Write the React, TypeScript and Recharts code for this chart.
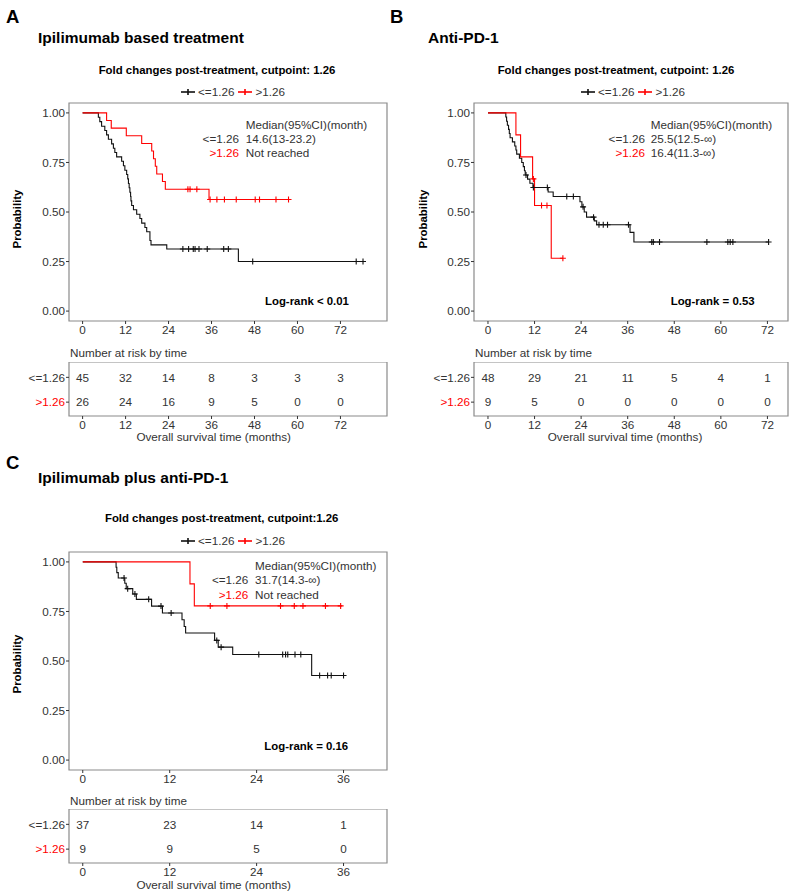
import React from 'react';
import { ComposedChart, Line, Scatter, XAxis, YAxis, ReferenceArea, Legend } from 'recharts';

type Pt = [number, number];

// ---------- shared labels ----------
const groupLabels = ['<=1.26', '>1.26'];
const groupColors = ['#111111', '#ff0000'];
const probTicks = [0, 0.25, 0.5, 0.75, 1];

// ---------- Panel A: Ipilimumab based treatment ----------
const aLowCurve: Pt[] = [
  [0, 1], [4.4, 0.978], [4.8, 0.956], [5.3, 0.933], [6.2, 0.911], [6.7, 0.889], [7.2, 0.867],
  [8.1, 0.844], [8.6, 0.822], [9.0, 0.8], [9.5, 0.778], [10.9, 0.756], [11.4, 0.733], [11.8, 0.711],
  [12.3, 0.689], [12.6, 0.667], [12.8, 0.644], [13.0, 0.622], [13.2, 0.6], [13.4, 0.578], [13.5, 0.556],
  [13.7, 0.533], [14.2, 0.511], [15.1, 0.489], [16.0, 0.467], [16.5, 0.444], [17.4, 0.422], [17.9, 0.4],
  [18.8, 0.356], [19.1, 0.334], [23.5, 0.313], [43.5, 0.25], [78.3, 0.25],
];
const aLowCensor = [28.0, 29.6, 30.9, 31.4, 32.5, 34.8, 39.4, 40.7, 47.5, 76.4, 78.3];
const aHighCurve: Pt[] = [
  [0, 1], [6.7, 0.962], [8.0, 0.923], [12.2, 0.885], [16.5, 0.846], [19.3, 0.808], [19.8, 0.769],
  [20.3, 0.731], [20.7, 0.692], [22.3, 0.654], [23.1, 0.615], [35.3, 0.563], [57.5, 0.563],
];
const aHighCensor = [29.4, 30.0, 31.9, 35.6, 37.5, 39.6, 42.9, 48.2, 49.4, 54.0, 57.5];
const aTimes = [0, 12, 24, 36, 48, 60, 72];
const aRiskLow = [45, 32, 14, 8, 3, 3, 3];
const aRiskHigh = [26, 24, 16, 9, 5, 0, 0];

// ---------- Panel B: Anti-PD-1 ----------
const bLowCurve: Pt[] = [
  [0, 1], [4.6, 0.979], [4.8, 0.958], [5.0, 0.938], [5.3, 0.917], [5.5, 0.896], [5.7, 0.875],
  [6.3, 0.854], [6.9, 0.833], [7.2, 0.813], [7.4, 0.792], [8.1, 0.771], [8.7, 0.75], [9.1, 0.729],
  [9.4, 0.708], [9.6, 0.687], [10.2, 0.666], [10.8, 0.645], [11.6, 0.624], [15.5, 0.601], [16.8, 0.578],
  [23.7, 0.552], [24.2, 0.526], [24.8, 0.5], [25.4, 0.474], [27.4, 0.455], [28.0, 0.436],
  [36.6, 0.397], [37.6, 0.349], [72.3, 0.349],
];
const bLowCensor = [9.8, 11.7, 15.3, 20.3, 22.0, 24.5, 27.2, 28.6, 29.7, 30.8, 36.2, 42.2, 42.6, 44.2, 56.4, 61.8, 62.4, 63.1, 72.3];
const bHighCurve: Pt[] = [
  [0, 1], [7.2, 0.889], [8.4, 0.778], [11.5, 0.667], [12.0, 0.533], [16.3, 0.267], [19.3, 0.267],
];
const bHighCensor = [11.7, 13.8, 15.2, 19.3];
const bTimes = [0, 12, 24, 36, 48, 60, 72];
const bRiskLow = [48, 29, 21, 11, 5, 4, 1];
const bRiskHigh = [9, 5, 0, 0, 0, 0, 0];

// ---------- Panel C: Ipilimumab plus anti-PD-1 ----------
const cLowCurve: Pt[] = [
  [0, 1], [4.6, 0.973], [4.7, 0.946], [4.9, 0.919], [5.8, 0.892], [6.0, 0.865], [6.9, 0.838],
  [7.4, 0.811], [9.5, 0.777], [11.0, 0.742], [13.7, 0.708], [14.0, 0.674], [14.2, 0.641],
  [18.2, 0.604], [18.7, 0.57], [20.7, 0.533], [31.6, 0.427], [36.0, 0.427],
];
const cLowCensor = [5.7, 6.2, 7.2, 9.1, 10.8, 12.2, 18.5, 19.1, 24.3, 27.6, 28.0, 28.3, 29.3, 30.1, 32.7, 33.8, 34.3, 36.0];
const cHighCurve: Pt[] = [[0, 1], [14.8, 0.889], [15.4, 0.778], [35.8, 0.778]];
const cHighCensor = [17.6, 19.9, 27.3, 29.2, 30.4, 33.5, 35.6];
const cTimes = [0, 12, 24, 36];
const cRiskLow = [37, 23, 14, 1];
const cRiskHigh = [9, 9, 5, 0];

// ---------- helpers ----------
const FONT = '"Liberation Sans", Arial, Helvetica, sans-serif';
const TXT = '#333333';
const BORDER = '#8a8a8a';

const toRows = (pts: Pt[]) => pts.map(([t, s]) => ({ t, s }));
const stepAt = (pts: Pt[], t: number) => {
  let s = pts[0][1];
  for (const [tt, ss] of pts) if (tt <= t) s = ss;
  return s;
};
const censorRows = (pts: Pt[], times: number[]) => times.map((t) => ({ t, s: stepAt(pts, t) }));
const riskRows = (times: number[], low: number[], high: number[]) => [
  ...times.map((t, i) => ({ t, row: 2, n: low[i] })),
  ...times.map((t, i) => ({ t, row: 1, n: high[i] })),
];

const plusShape = (color: string) => (props: any) => {
  const { cx, cy } = props;
  if (cx == null || cy == null) return <g />;
  return (
    <path
      d={`M${cx - 3},${cy}H${cx + 3}M${cx},${cy - 3}V${cy + 3}`}
      stroke={color}
      strokeWidth={1.1}
      fill="none"
    />
  );
};

const numberShape = (props: any) => {
  const { cx, cy, payload } = props;
  return (
    <text x={cx} y={cy} dy="0.36em" textAnchor="middle" fontSize={11.7} fill={TXT}>
      {payload.n}
    </text>
  );
};

const RowTick = (props: any) => {
  const { x, y, payload } = props;
  const idx = payload.value === 2 ? 0 : 1;
  return (
    <text x={x} y={y} dy="0.36em" textAnchor="end" fontSize={11.7} fill={idx === 0 ? TXT : groupColors[1]}>
      {groupLabels[idx]}
    </text>
  );
};

const LegendContent = (props: any) => {
  const items = (props.payload || []).filter((p: any) => p.type !== 'none');
  return (
    <div
      style={{
        height: 20,
        display: 'flex',
        alignItems: 'center',
        paddingLeft: 181,
        paddingBottom: 2,
        boxSizing: 'border-box',
        fontSize: 11.7,
        color: TXT,
        fontFamily: FONT,
      }}
    >
      {items.map((it: any, i: number) => (
        <span key={i} style={{ display: 'flex', alignItems: 'center', marginRight: 4 }}>
          <svg width={14} height={10}>
            <line x1={0} x2={14} y1={5} y2={5} stroke={it.color} strokeWidth={1.6} />
            <line x1={7} x2={7} y1={2} y2={8} stroke={it.color} strokeWidth={1.6} />
          </svg>
          <span style={{ marginLeft: 3 }}>{it.value}</span>
        </span>
      ))}
    </div>
  );
};

const PLOT_H = 218;
const LEG_H = 20;
const XAX_H = 20;

type KMProps = {
  left: number;
  top: number;
  yAxisWidth: number;
  plotRight: number;
  xDomain: [number, number];
  xTicks: number[];
  low: Pt[];
  lowCensor: number[];
  high: Pt[];
  highCensor: number[];
};

function KMPlot(p: KMProps) {
  const width = 400;
  return (
    <div style={{ position: 'absolute', left: p.left, top: p.top }}>
      <ComposedChart
        width={width}
        height={LEG_H + PLOT_H + XAX_H}
        margin={{ top: 0, right: width - (p.plotRight - p.left), bottom: 0, left: 0 }}
      >
        <Legend verticalAlign="top" align="left" content={<LegendContent />} />
        <XAxis
          dataKey="t"
          type="number"
          domain={p.xDomain}
          ticks={p.xTicks}
          allowDataOverflow
          interval={0}
          height={XAX_H}
          axisLine={false}
          tickSize={3}
          tickMargin={2}
          tickLine={{ stroke: TXT }}
          tick={{ fill: TXT, fontSize: 11.7 }}
        />
        <YAxis
          dataKey="s"
          type="number"
          domain={[-0.05, 1.05]}
          ticks={probTicks}
          allowDataOverflow
          interval={0}
          width={p.yAxisWidth}
          axisLine={false}
          tickSize={3}
          tickMargin={1}
          tickLine={{ stroke: TXT }}
          tick={{ fill: TXT, fontSize: 11.7 }}
          tickFormatter={(v: number) => v.toFixed(2)}
        />
        <ReferenceArea
          x1={p.xDomain[0]}
          x2={p.xDomain[1]}
          y1={-0.05}
          y2={1.05}
          fill="none"
          stroke={BORDER}
          strokeWidth={1.2}
          ifOverflow="visible"
        />
        <Line
          data={toRows(p.low)}
          dataKey="s"
          name={groupLabels[0]}
          type="stepAfter"
          stroke={groupColors[0]}
          strokeWidth={1.1}
          dot={false}
          isAnimationActive={false}
        />
        <Line
          data={toRows(p.high)}
          dataKey="s"
          name={groupLabels[1]}
          type="stepAfter"
          stroke={groupColors[1]}
          strokeWidth={1.1}
          dot={false}
          isAnimationActive={false}
        />
        <Scatter
          data={censorRows(p.low, p.lowCensor)}
          dataKey="s"
          legendType="none"
          shape={plusShape(groupColors[0])}
          isAnimationActive={false}
        />
        <Scatter
          data={censorRows(p.high, p.highCensor)}
          dataKey="s"
          legendType="none"
          shape={plusShape(groupColors[1])}
          isAnimationActive={false}
        />
      </ComposedChart>
    </div>
  );
}

type RiskProps = {
  left: number;
  top: number;
  yAxisWidth: number;
  plotRight: number;
  xDomain: [number, number];
  times: number[];
  low: number[];
  high: number[];
};

const RISK_H = 54;
const RISK_AX = 16;

function RiskTable(p: RiskProps) {
  const width = 400;
  return (
    <div style={{ position: 'absolute', left: p.left, top: p.top }}>
      <ComposedChart
        width={width}
        height={RISK_H + RISK_AX}
        margin={{ top: 0, right: width - (p.plotRight - p.left), bottom: 0, left: 0 }}
      >
        <XAxis
          dataKey="t"
          type="number"
          domain={p.xDomain}
          ticks={p.times}
          allowDataOverflow
          interval={0}
          height={RISK_AX}
          axisLine={false}
          tickSize={3}
          tickMargin={2}
          tickLine={{ stroke: TXT }}
          tick={{ fill: TXT, fontSize: 11.7 }}
        />
        <YAxis
          dataKey="row"
          type="number"
          domain={[0.44, 2.62]}
          ticks={[2, 1]}
          allowDataOverflow
          interval={0}
          width={p.yAxisWidth}
          axisLine={false}
          tickSize={3}
          tickMargin={1}
          tickLine={{ stroke: TXT }}
          tick={<RowTick />}
        />
        <ReferenceArea
          x1={p.xDomain[0]}
          x2={p.xDomain[1]}
          y1={0.44}
          y2={2.62}
          fill="none"
          stroke={BORDER}
          strokeWidth={1.2}
          ifOverflow="visible"
        />
        <Scatter
          data={riskRows(p.times, p.low, p.high)}
          dataKey="row"
          shape={numberShape}
          isAnimationActive={false}
        />
      </ComposedChart>
    </div>
  );
}

// overlay text helper
const T = (props: {
  x: number;
  y: number;
  children: React.ReactNode;
  size?: number;
  bold?: boolean;
  anchor?: 'start' | 'middle' | 'end';
  fill?: string;
  rotate?: boolean;
}) => {
  const size = props.size ?? 11.7;
  return (
    <text
      x={props.rotate ? 0 : props.x}
      y={props.rotate ? 0 : props.y}
      transform={props.rotate ? `translate(${props.x},${props.y}) rotate(-90)` : undefined}
      fontSize={size}
      fontWeight={props.bold ? 'bold' : 'normal'}
      textAnchor={props.anchor ?? 'start'}
      fill={props.fill ?? TXT}
    >
      {props.children}
    </text>
  );
};

export default function App() {
  const red = groupColors[1];
  return (
    <div
      style={{
        position: 'absolute',
        left: 0,
        top: 0,
        width: 800,
        height: 895,
        background: '#fff',
        fontFamily: FONT,
        overflow: 'hidden',
      }}
    >
      <KMPlot left={0} top={82.7} yAxisWidth={69} plotRight={387} xDomain={[-3.8, 85]} xTicks={aTimes}
        low={aLowCurve} lowCensor={aLowCensor} high={aHighCurve} highCensor={aHighCensor} />
      <RiskTable left={0} top={361.7} yAxisWidth={69} plotRight={387} xDomain={[-3.8, 85]}
        times={aTimes} low={aRiskLow} high={aRiskHigh} />

      <KMPlot left={400} top={82.7} yAxisWidth={74} plotRight={788} xDomain={[-3.6, 77.3]} xTicks={bTimes}
        low={bLowCurve} lowCensor={bLowCensor} high={bHighCurve} highCensor={bHighCensor} />
      <RiskTable left={400} top={361.7} yAxisWidth={74} plotRight={788} xDomain={[-3.6, 77.3]}
        times={bTimes} low={bRiskLow} high={bRiskHigh} />

      <KMPlot left={0} top={531.7} yAxisWidth={69} plotRight={387} xDomain={[-1.9, 42]} xTicks={cTimes}
        low={cLowCurve} lowCensor={cLowCensor} high={cHighCurve} highCensor={cHighCensor} />
      <RiskTable left={0} top={809.3} yAxisWidth={69} plotRight={387} xDomain={[-1.9, 42]}
        times={cTimes} low={cRiskLow} high={cRiskHigh} />

      <svg
        width={800}
        height={895}
        style={{ position: 'absolute', left: 0, top: 0, pointerEvents: 'none', fontFamily: FONT }}
      >
        {/* Panel A */}
        <T x={6} y={23.3} size={18.5} bold fill="#000">A</T>
        <T x={38} y={43} size={15.5} bold fill="#000">Ipilimumab based treatment</T>
        <T x={217} y={74.1} size={11.4} bold anchor="middle" fill="#000">Fold changes post-treatment, cutpoint: 1.26</T>
        <T x={245.7} y={129.2}>Median(95%CI)(month)</T>
        <T x={239} y={143.2} anchor="end">{groupLabels[0]}</T>
        <T x={245.7} y={143.2}>14.6(13-23.2)</T>
        <T x={239} y={156.9} anchor="end" fill={red}>{groupLabels[1]}</T>
        <T x={245.7} y={156.9}>Not reached</T>
        <T x={265} y={304.8} size={11.4} bold fill="#000">Log-rank &lt; 0.01</T>
        <T x={20.9} y={219} size={11.4} bold anchor="middle" fill="#000" rotate>Probability</T>
        <T x={70} y={357.2}>Number at risk by time</T>
        <T x={213.7} y={440.9} anchor="middle">Overall survival time (months)</T>

        {/* Panel B */}
        <T x={390} y={23.3} size={18.5} bold fill="#000">B</T>
        <T x={428} y={43} size={15.5} bold fill="#000">Anti-PD-1</T>
        <T x={616} y={74.1} size={11.4} bold anchor="middle" fill="#000">Fold changes post-treatment, cutpoint: 1.26</T>
        <T x={650.7} y={128.5}>Median(95%CI)(month)</T>
        <T x={645} y={143.2} anchor="end">{groupLabels[0]}</T>
        <T x={650.7} y={143.2}>25.5(12.5-∞)</T>
        <T x={645} y={156.9} anchor="end" fill={red}>{groupLabels[1]}</T>
        <T x={650.7} y={156.9}>16.4(11.3-∞)</T>
        <T x={670.7} y={304.8} size={11.4} bold fill="#000">Log-rank = 0.53</T>
        <T x={426.5} y={219} size={11.4} bold anchor="middle" fill="#000" rotate>Probability</T>
        <T x={475} y={357.2}>Number at risk by time</T>
        <T x={625} y={440.9} anchor="middle">Overall survival time (months)</T>

        {/* Panel C */}
        <T x={6} y={469} size={18.5} bold fill="#000">C</T>
        <T x={38} y={482.8} size={15.5} bold fill="#000">Ipilimumab plus anti-PD-1</T>
        <T x={221.7} y={522.4} size={11.4} bold anchor="middle" fill="#000">Fold changes post-treatment, cutpoint:1.26</T>
        <T x={255} y={570.2}>Median(95%CI)(month)</T>
        <T x={248.3} y={584.2} anchor="end">{groupLabels[0]}</T>
        <T x={255} y={584.2}>31.7(14.3-∞)</T>
        <T x={248.3} y={598.5} anchor="end" fill={red}>{groupLabels[1]}</T>
        <T x={255} y={598.5}>Not reached</T>
        <T x={264.3} y={750} size={11.4} bold fill="#000">Log-rank = 0.16</T>
        <T x={20.9} y={664} size={11.4} bold anchor="middle" fill="#000" rotate>Probability</T>
        <T x={70} y={804.9}>Number at risk by time</T>
        <T x={213.7} y={889.2} anchor="middle">Overall survival time (months)</T>
      </svg>
    </div>
  );
}
